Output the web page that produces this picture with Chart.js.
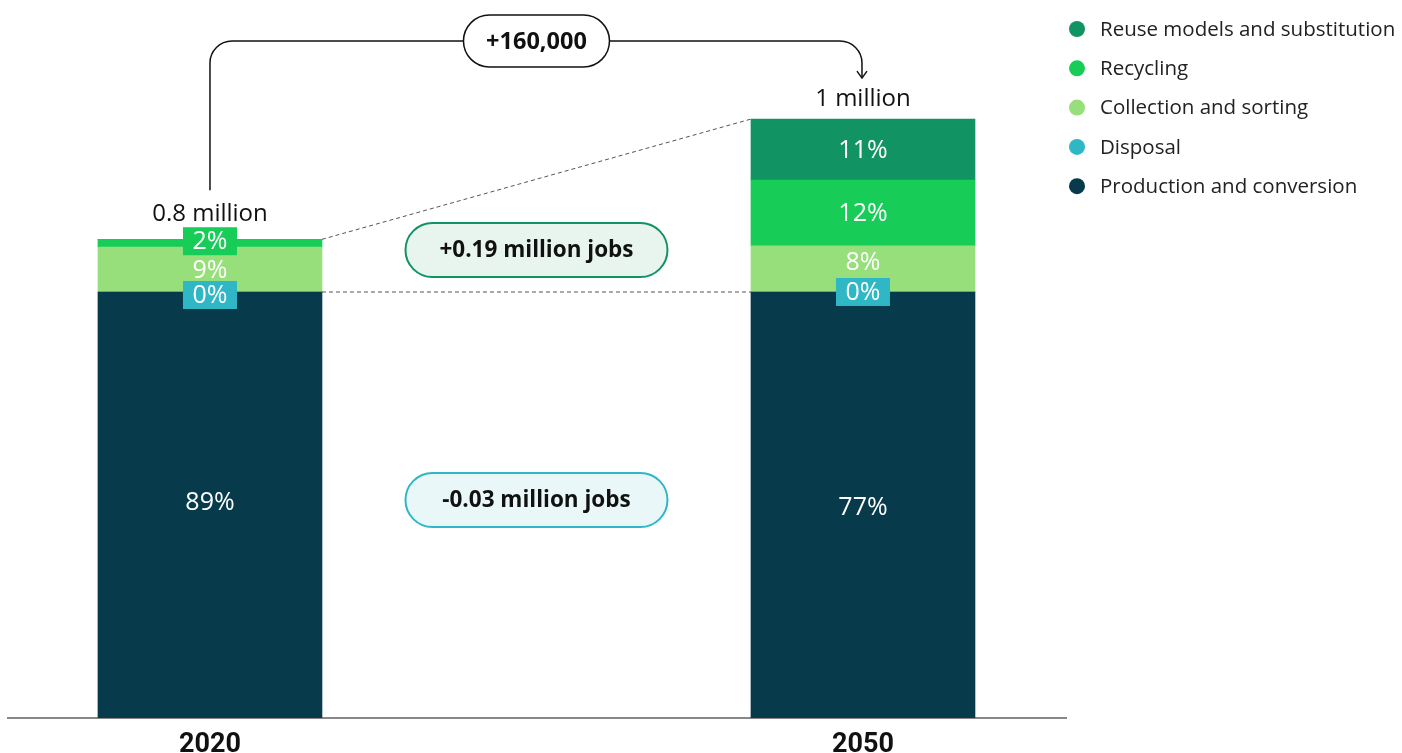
<!DOCTYPE html>
<html>
<head>
<meta charset="utf-8">
<script src="https://cdn.jsdelivr.net/npm/chart.js@4.4.1/dist/chart.umd.min.js"></script>
<style>
  html, body { margin: 0; padding: 0; background: #fff; }
  #wrap { width: 1402px; height: 753px; position: relative; }
</style>
</head>
<body>
<div id="wrap"><canvas id="jobsChart"></canvas></div>
<script>
// Datos (millones de empleos)
const years = ['2020', '2050'];
const seriesNames = ['Production and conversion', 'Disposal', 'Collection and sorting', 'Recycling', 'Reuse models and substitution'];
const production = [0.712, 0.712];
const disposal = [0, 0];
const collection = [0.075, 0.077];
const recycling = [0.013, 0.110];
const reuse = [0, 0.102];
const productionPct = ['89%', '77%'];
const disposalPct = ['0%', '0%'];
const collectionPct = ['9%', '8%'];
const recyclingPct = ['2%', '12%'];
const reusePct = [null, '11%'];
const totalLabels = ['0.8 million', '1 million'];
const changeLabel = '+160,000';
const gainLabel = '+0.19 million jobs';
const lossLabel = '-0.03 million jobs';

// Colores
const cProduction = '#073a4b';
const cDisposal = '#2fb7c5';
const cCollection = '#96df7b';
const cRecycling = '#17cd57';
const cReuse = '#129363';
const FONT = "'Open Sans', Lato, sans-serif";

const seriesValues = [production, disposal, collection, recycling, reuse];
const seriesColors = [cProduction, cDisposal, cCollection, cRecycling, cReuse];
const seriesPct = [productionPct, disposalPct, collectionPct, recyclingPct, reusePct];
// etiquetas pequeñas con caja de fondo, y desplazamientos verticales
const boxed = [[false, false], [true, true], [false, false], [true, false], [false, false]];
const labelDy = [[-3, 2], [3, 0], [0, -7], [-2, 0], [0, 0]];

function roundRect(ctx, x, y, w, h, r) {
    ctx.beginPath();
    ctx.moveTo(x + r, y);
    ctx.lineTo(x + w - r, y);
    ctx.arcTo(x + w, y, x + w, y + r, r);
    ctx.lineTo(x + w, y + h - r);
    ctx.arcTo(x + w, y + h, x + w - r, y + h, r);
    ctx.lineTo(x + r, y + h);
    ctx.arcTo(x, y + h, x, y + h - r, r);
    ctx.lineTo(x, y + r);
    ctx.arcTo(x, y, x + r, y, r);
    ctx.closePath();
}

function pill(ctx, cx, cy, w, h, fill, stroke, lw, text, size) {
    roundRect(ctx, cx - w / 2, cy - h / 2, w, h, h / 2);
    ctx.fillStyle = fill;
    ctx.fill();
    ctx.lineWidth = lw;
    ctx.strokeStyle = stroke;
    ctx.stroke();
    ctx.fillStyle = '#111';
    ctx.font = 'bold ' + size + 'px ' + FONT;
    ctx.textAlign = 'center';
    ctx.textBaseline = 'middle';
    ctx.fillText(text, cx, cy + 1);
}

const annotations = {
    id: 'annotations',
    afterDatasetsDraw(chart) {
        const ctx = chart.ctx;
        const metas = seriesValues.map((_, i) => chart.getDatasetMeta(i));
        const prod = metas[0].data;
        const top = metas[metas.length - 1].data;
        ctx.save();

        // Etiquetas de porcentaje
        metas.forEach((meta, i) => {
            meta.data.forEach((el, j) => {
                const txt = seriesPct[i][j];
                if (!txt) return;
                const cy = (el.y + el.base) / 2 + labelDy[i][j];
                ctx.font = '25px ' + FONT;
                if (boxed[i][j]) {
                    ctx.fillStyle = seriesColors[i];
                    ctx.fillRect(el.x - 27, cy - 14, 54, 28);
                }
                ctx.fillStyle = '#fff';
                ctx.textAlign = 'center';
                ctx.textBaseline = 'middle';
                ctx.fillText(txt, el.x, cy + 1);
            });
        });

        // Líneas punteadas entre barras
        ctx.setLineDash([4, 3]);
        ctx.lineWidth = 1;
        ctx.strokeStyle = '#555';
        const r0 = prod[0].x + prod[0].width / 2;
        const l1 = prod[1].x - prod[1].width / 2;
        ctx.beginPath();
        ctx.moveTo(r0, top[0].y);
        ctx.lineTo(l1, top[1].y);
        ctx.moveTo(r0, prod[0].y);
        ctx.lineTo(l1, prod[1].y);
        ctx.stroke();
        ctx.setLineDash([]);

        // Totales
        ctx.fillStyle = '#111';
        ctx.font = '24px ' + FONT;
        ctx.textAlign = 'center';
        ctx.textBaseline = 'middle';
        ctx.fillText(totalLabels[0], top[0].x, top[0].y - 25);
        ctx.fillText(totalLabels[1], top[1].x, top[1].y - 20);

        // Conector con flecha
        const x0 = top[0].x, x1 = top[1].x - 1, yTop = 41, rad = 22;
        const yStart = top[0].y - 49, yEnd = top[1].y - 41;
        ctx.strokeStyle = '#111';
        ctx.lineWidth = 1.5;
        ctx.beginPath();
        ctx.moveTo(x0, yStart);
        ctx.lineTo(x0, yTop + rad);
        ctx.arcTo(x0, yTop, x0 + rad, yTop, rad);
        ctx.lineTo(x1 - rad, yTop);
        ctx.arcTo(x1, yTop, x1, yTop + rad, rad);
        ctx.lineTo(x1, yEnd);
        ctx.stroke();
        ctx.beginPath();
        ctx.moveTo(x1 - 5, yEnd - 7);
        ctx.lineTo(x1, yEnd);
        ctx.lineTo(x1 + 5, yEnd - 7);
        ctx.stroke();

        const mid = (top[0].x + top[1].x) / 2;
        pill(ctx, mid, yTop, 146, 52, '#fff', '#111', 1.5, changeLabel, 23.5);
        pill(ctx, mid, 250, 262, 54, '#e8f4ee', cReuse, 2, gainLabel, 22.5);
        pill(ctx, mid, 500, 262, 54, '#e9f7f8', cDisposal, 2, lossLabel, 22.5);

        // Leyenda
        const lx = 1077;
        for (let k = 0; k < seriesNames.length; k++) {
            const i = seriesNames.length - 1 - k;
            const ly = 29 + k * 39.3;
            ctx.beginPath();
            ctx.arc(lx, ly, 8, 0, Math.PI * 2);
            ctx.fillStyle = seriesColors[i];
            ctx.fill();
            ctx.fillStyle = '#222';
            ctx.font = '20.5px ' + FONT;
            ctx.textAlign = 'left';
            ctx.textBaseline = 'middle';
            ctx.fillText(seriesNames[i], 1100, ly + 1);
        }
        ctx.restore();
    }
};

document.addEventListener('DOMContentLoaded', function() {
    const canvas = document.getElementById('jobsChart');
    new Chart(canvas, {
        type: 'bar',
        data: {
            datasets: seriesValues.map((vals, i) => ({
                label: seriesNames[i],
                data: vals.map((v, j) => ({ x: j, y: v })),
                backgroundColor: seriesColors[i],
                borderWidth: 0,
                barThickness: 224
            }))
        },
        options: {
            responsive: true,
            maintainAspectRatio: false,
            animation: false,
            layout: { padding: { left: 8, right: 336, top: 0, bottom: -12 } },
            scales: {
                x: {
                    type: 'linear',
                    stacked: true,
                    offset: false,
                    bounds: 'data',
                    min: -0.3093,
                    max: 1.3109,
                    afterBuildTicks: (scale) => { scale.ticks = years.map((_, i) => ({ value: i })); },
                    grid: { display: false },
                    border: { display: true, color: '#888', width: 2 },
                    ticks: {
                        padding: 6,
                        autoSkip: false,
                        maxRotation: 0,
                        color: '#111',
                        font: { size: 27, weight: 'bold', family: 'Roboto', lineHeight: 1.0 },
                        callback: (v) => years[v] || ''
                    }
                },
                y: {
                    stacked: true,
                    display: false,
                    min: 0,
                    max: 1.2
                }
            },
            plugins: {
                legend: { display: false },
                tooltip: { enabled: false }
            }
        },
        plugins: [annotations]
    });
});
</script>
</body>
</html>
